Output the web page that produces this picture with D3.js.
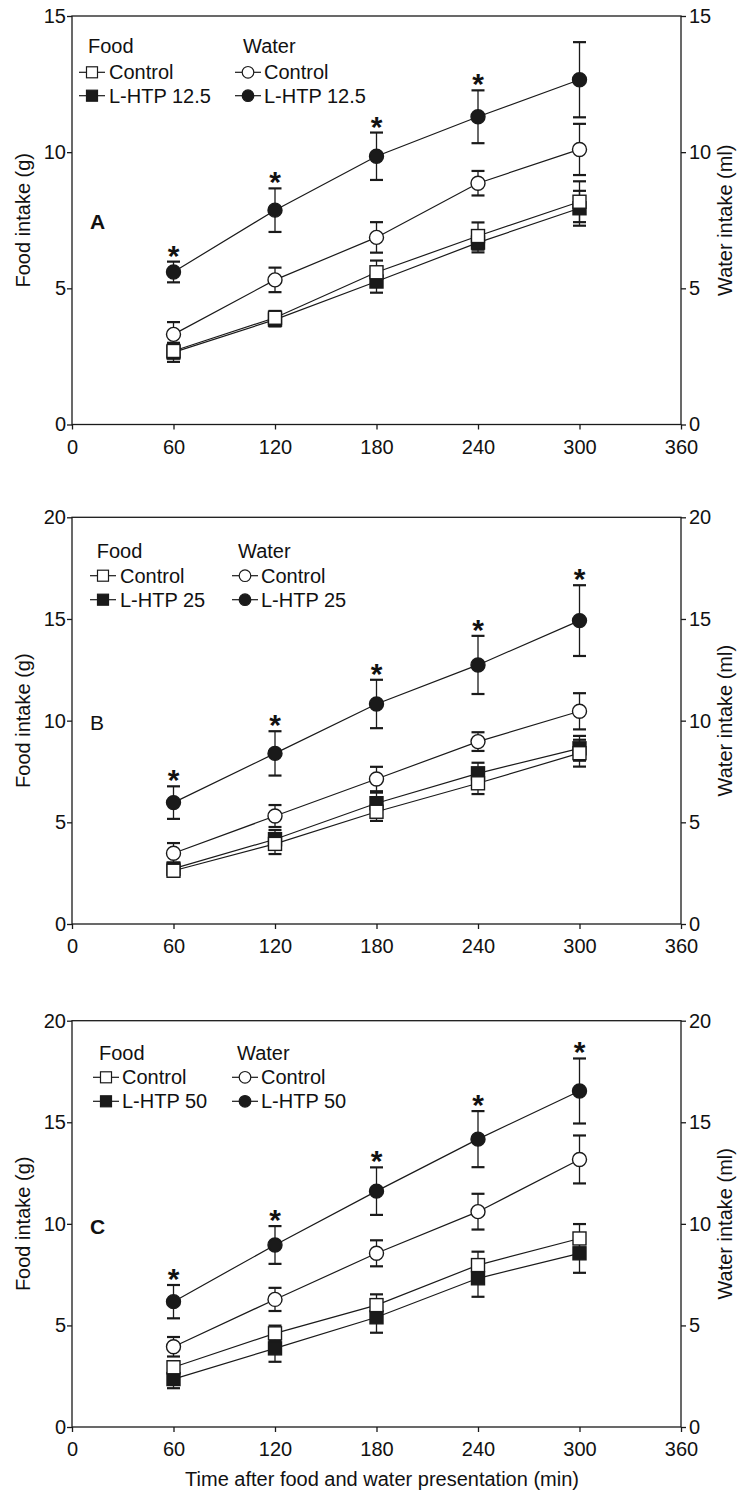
<!DOCTYPE html>
<html>
<head>
<meta charset="utf-8">
<script src="https://cdn.jsdelivr.net/npm/d3@7/dist/d3.min.js"></script>
<style>
  html, body { margin: 0; padding: 0; background: #fff; }
  svg { display: block; }
  text { font-family: "Liberation Sans", Arial, Helvetica, sans-serif; fill: #111; }
</style>
</head>
<body>
<svg id="chart" width="739" height="1492"></svg>
<script>
// ---------- data ----------
const times = [60, 120, 180, 240, 300];
const xTicks = [0, 60, 120, 180, 240, 300, 360];
const yTicksA = [0, 5, 10, 15];
const yTicksBC = [0, 5, 10, 15, 20];

// Panel A (L-HTP 12.5)
const foodCtrlA = [2.70, 3.92, 5.59, 6.92, 8.18];
const foodCtrlErrA = [0.28, 0.25, 0.43, 0.50, 0.75];
const foodLhtpA = [2.65, 3.85, 5.25, 6.68, 7.94];
const foodLhtpErrA = [0.35, 0.25, 0.41, 0.36, 0.64];
const waterCtrlA = [3.31, 5.31, 6.87, 8.86, 10.10];
const waterCtrlErrA = [0.45, 0.45, 0.56, 0.45, 0.94];
const waterLhtpA = [5.60, 7.87, 9.85, 11.30, 12.66];
const waterLhtpErrA = [0.38, 0.80, 0.87, 0.97, 1.38];
const sigA = [true, true, true, true, false];

// Panel B (L-HTP 25)
const foodCtrlB = [2.62, 3.94, 5.52, 6.92, 8.40];
const foodCtrlErrB = [0.30, 0.50, 0.45, 0.53, 0.66];
const foodLhtpB = [2.72, 4.17, 5.94, 7.41, 8.64];
const foodLhtpErrB = [0.30, 0.45, 0.52, 0.52, 0.61];
const waterCtrlB = [3.48, 5.31, 7.13, 8.97, 10.46];
const waterCtrlErrB = [0.50, 0.54, 0.60, 0.46, 0.89];
const waterLhtpB = [5.97, 8.39, 10.82, 12.74, 14.92];
const waterLhtpErrB = [0.80, 1.09, 1.19, 1.43, 1.74];
const sigB = [true, true, true, true, true];

// Panel C (L-HTP 50)
const foodCtrlC = [2.94, 4.61, 6.00, 7.97, 9.28];
const foodCtrlErrC = [0.30, 0.38, 0.53, 0.66, 0.71];
const foodLhtpC = [2.36, 3.87, 5.40, 7.32, 8.55];
const foodLhtpErrC = [0.45, 0.66, 0.76, 0.91, 0.96];
const waterCtrlC = [3.95, 6.28, 8.55, 10.60, 13.17];
const waterCtrlErrC = [0.48, 0.57, 0.64, 0.88, 1.18];
const waterLhtpC = [6.17, 8.96, 11.61, 14.17, 16.54];
const waterLhtpErrC = [0.82, 0.93, 1.17, 1.38, 1.60];
const sigC = [true, true, true, true, true];

const panelLetters = ["A", "B", "C"];
const doseLabels = ["L-HTP 12.5", "L-HTP 25", "L-HTP 50"];
const yMax = [15, 20, 20];

// ---------- layout ----------
const svg = d3.select("#chart");
svg.append("rect").attr("width", 739).attr("height", 1492).attr("fill", "#fff");
const X0 = 72, X1 = 681;
const x = d3.scaleLinear().domain([0, 360]).range([X0, X1]);
const INK = "#1a1a1a";

const panels = [
  { top: 16, bottom: 424.5, yTicks: yTicksA, sig: sigA, letterBold: true,
    food: [[foodCtrlA, foodCtrlErrA], [foodLhtpA, foodLhtpErrA]],
    water: [[waterCtrlA, waterCtrlErrA], [waterLhtpA, waterLhtpErrA]],
    leg: { foodX: 88, foodMk: 92, foodTx: 109, waterX: 243, waterMk: 248, waterTx: 264, b0: 36.7, b1: 63.3, b2: 86.7 } },
  { top: 517.3, bottom: 924, yTicks: yTicksBC, sig: sigB, letterBold: false,
    food: [[foodCtrlB, foodCtrlErrB], [foodLhtpB, foodLhtpErrB]],
    water: [[waterCtrlB, waterCtrlErrB], [waterLhtpB, waterLhtpErrB]],
    leg: { foodX: 96.7, foodMk: 103, foodTx: 120, waterX: 238, waterMk: 245, waterTx: 261, b0: 41, b1: 65.4, b2: 89.4 } },
  { top: 1020.7, bottom: 1427, yTicks: yTicksBC, sig: sigC, letterBold: true,
    food: [[foodCtrlC, foodCtrlErrC], [foodLhtpC, foodLhtpErrC]],
    water: [[waterCtrlC, waterCtrlErrC], [waterLhtpC, waterLhtpErrC]],
    leg: { foodX: 99, foodMk: 106, foodTx: 122, waterX: 237, waterMk: 245, waterTx: 261, b0: 39.3, b1: 63.6, b2: 87.6 } }
];

const FS = 20;

function styleAxis(g) {
  g.select(".domain").remove();
  g.selectAll(".tick line").attr("stroke", INK).attr("stroke-width", 1.3);
  g.selectAll(".tick text").attr("font-size", 20).attr("fill", INK)
    .style("font-family", "'Liberation Sans Narrow', 'Liberation Sans', Arial, sans-serif");
}

panels.forEach((p, i) => {
  const y = d3.scaleLinear().domain([0, yMax[i]]).range([p.bottom, p.top]);
  const g = svg.append("g");

  // axes
  g.append("g").attr("transform", `translate(${X0},0)`)
    .call(d3.axisLeft(y).tickValues(p.yTicks).tickSize(5).tickPadding(1)).call(styleAxis);
  g.append("g").attr("transform", `translate(${X1},0)`)
    .call(d3.axisRight(y).tickValues(p.yTicks).tickSize(5).tickPadding(3)).call(styleAxis);
  g.append("g").attr("transform", `translate(0,${p.bottom})`)
    .call(d3.axisBottom(x).tickValues(xTicks).tickSize(5).tickPadding(10)).call(styleAxis);

  // frame
  g.append("rect").attr("x", X0).attr("y", p.top).attr("width", X1 - X0).attr("height", p.bottom - p.top)
    .attr("fill", "none").attr("stroke", INK).attr("stroke-width", 1.3);

  // axis titles
  const cy = (p.top + p.bottom) / 2;
  g.append("text").attr("transform", `translate(30,${cy}) rotate(-90)`).attr("text-anchor", "middle")
    .attr("font-size", FS).text("Food intake (g)");
  g.append("text").attr("transform", `translate(732,${cy}) rotate(-90)`).attr("text-anchor", "middle")
    .attr("font-size", FS).text("Water intake (ml)");

  // panel letter
  g.append("text").attr("x", 90).attr("y", p.top + 213).attr("font-size", 21)
    .attr("font-weight", p.letterBold ? "bold" : "normal").text(panelLetters[i]);

  const line = d3.line().x((d, k) => x(times[k])).y(d => y(d));
  const series = [
    { vals: p.food[1][0], err: p.food[1][1], shape: "square", filled: true },
    { vals: p.food[0][0], err: p.food[0][1], shape: "square", filled: false },
    { vals: p.water[0][0], err: p.water[0][1], shape: "circle", filled: false },
    { vals: p.water[1][0], err: p.water[1][1], shape: "circle", filled: true }
  ];

  // lines
  series.forEach(s => {
    g.append("path").datum(s.vals).attr("d", line).attr("fill", "none")
      .attr("stroke", INK).attr("stroke-width", 1.2);
  });

  // error bars
  series.forEach(s => {
    const eb = g.append("g");
    s.vals.forEach((v, k) => {
      const cx = x(times[k]);
      const yt = y(v + s.err[k]), yb = y(v - s.err[k]);
      eb.append("line").attr("x1", cx).attr("x2", cx).attr("y1", yt).attr("y2", yb)
        .attr("stroke", INK).attr("stroke-width", 1.3);
      [yt, yb].forEach(yy => eb.append("line").attr("x1", cx - 6.5).attr("x2", cx + 6.5)
        .attr("y1", yy).attr("y2", yy).attr("stroke", INK).attr("stroke-width", 2.2));
    });
  });

  // markers
  series.forEach(s => {
    s.vals.forEach((v, k) => {
      const cx = x(times[k]), cyv = y(v);
      if (s.shape === "square") {
        g.append("rect").attr("x", cx - 6.5).attr("y", cyv - 6.5).attr("width", 13).attr("height", 13)
          .attr("fill", s.filled ? INK : "#fff").attr("stroke", INK).attr("stroke-width", 1.4);
      } else {
        g.append("circle").attr("cx", cx).attr("cy", cyv).attr("r", 7)
          .attr("fill", s.filled ? INK : "#fff").attr("stroke", INK).attr("stroke-width", 1.4);
      }
    });
  });

  // significance asterisks (above L-HTP water error bar)
  const wl = p.water[1];
  p.sig.forEach((on, k) => {
    if (!on) return;
    const capY = y(wl[0][k] + wl[1][k]);
    g.append("text").attr("x", x(times[k])).attr("y", capY + 4).attr("text-anchor", "middle")
      .attr("font-size", 30).attr("font-weight", "bold").text("*");
  });

  // legend
  const L = p.leg;
  g.append("text").attr("x", L.foodX).attr("y", p.top + L.b0).attr("font-size", FS).text("Food");
  g.append("text").attr("x", L.waterX).attr("y", p.top + L.b0).attr("font-size", FS).text("Water");
  const rows = [
    { b: L.b1, label: "Control", filled: false },
    { b: L.b2, label: doseLabels[i], filled: true }
  ];
  rows.forEach(r => {
    const my = p.top + r.b - 7;
    // food
    g.append("line").attr("x1", L.foodMk - 13).attr("x2", L.foodMk + 13).attr("y1", my).attr("y2", my)
      .attr("stroke", INK).attr("stroke-width", 1.2);
    g.append("rect").attr("x", L.foodMk - 5.5).attr("y", my - 5.5).attr("width", 11).attr("height", 11)
      .attr("fill", r.filled ? INK : "#fff").attr("stroke", INK).attr("stroke-width", 1.2);
    g.append("text").attr("x", L.foodTx).attr("y", p.top + r.b).attr("font-size", FS).text(r.label);
    // water
    g.append("line").attr("x1", L.waterMk - 13).attr("x2", L.waterMk + 13).attr("y1", my).attr("y2", my)
      .attr("stroke", INK).attr("stroke-width", 1.2);
    g.append("circle").attr("cx", L.waterMk).attr("cy", my).attr("r", 5.8)
      .attr("fill", r.filled ? INK : "#fff").attr("stroke", INK).attr("stroke-width", 1.2);
    g.append("text").attr("x", L.waterTx).attr("y", p.top + r.b).attr("font-size", FS).text(r.label);
  });
});

// x-axis title
svg.append("text").attr("x", 382).attr("y", 1486).attr("text-anchor", "middle")
  .attr("font-size", FS).text("Time after food and water presentation (min)");
</script>
</body>
</html>
